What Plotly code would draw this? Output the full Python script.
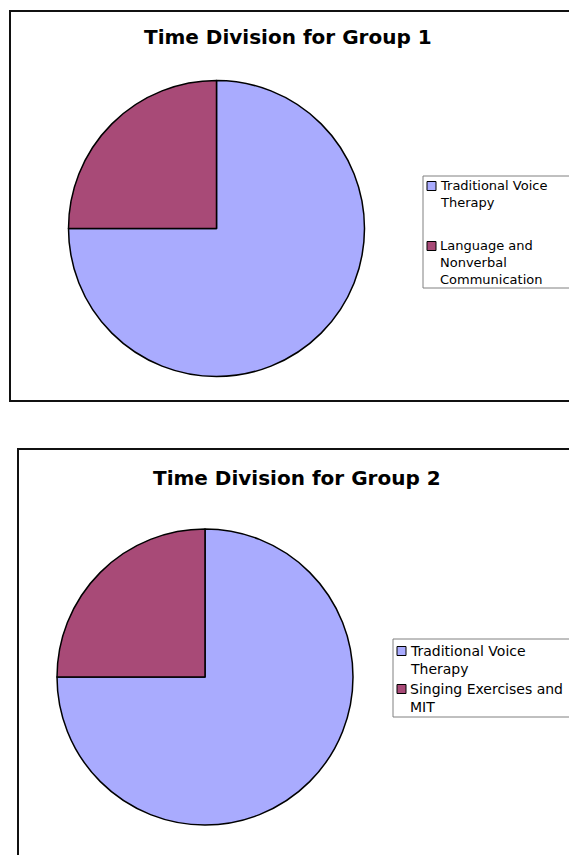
import plotly.graph_objects as go

# Share of session time per activity (percent)
group1_labels = ["Traditional Voice Therapy", "Language and Nonverbal Communication"]
group1_values = [75, 25]

group2_labels = ["Traditional Voice Therapy", "Singing Exercises and MIT"]
group2_values = [75, 25]

titles = ["Time Division for Group 1", "Time Division for Group 2"]

# how each legend entry wraps onto lines
group1_wrap = [["Traditional Voice", "Therapy"], ["Language and", "Nonverbal", "Communication"]]
group2_wrap = [["Traditional Voice", "Therapy"], ["Singing Exercises and", "MIT"]]

W, H = 569, 855
COLORS = ["#A9ABFE", "#A84A77"]
FONT = "DejaVu Sans, Verdana, sans-serif"


def px_x(v):
    return v / W


def px_y(v):
    return 1 - v / H


def pie_domain(cx, cy, r):
    return dict(x=[px_x(cx - r), px_x(cx + r)], y=[px_y(cy + r), px_y(cy - r)])


def pie_trace(labels, values, domain):
    return go.Pie(
        labels=labels, values=values,
        sort=False, direction="clockwise", rotation=0,
        textinfo="none", showlegend=False,
        hovertemplate="%{label}: %{value}%<extra></extra>",
        marker=dict(colors=COLORS, line=dict(color="#000000", width=1.5)),
        domain=domain,
    )


def legend_box(x0, y0, x1, y1, wraps, item_tops, font_size, shapes, annotations):
    """Boxed key: a coloured square plus wrapped text per slice."""
    shapes.append(dict(type="rect", xref="paper", yref="paper",
                       x0=px_x(x0), x1=px_x(x1), y0=px_y(y1), y1=px_y(y0),
                       line=dict(color="#808080", width=1), fillcolor="#FFFFFF"))
    line_h = 1.3 * font_size
    for color, lines, top in zip(COLORS, wraps, item_tops):
        sq = 9
        shapes.append(dict(type="rect", xref="paper", yref="paper",
                           x0=px_x(x0 + 4), x1=px_x(x0 + 4 + sq),
                           y0=px_y(top + sq / 2), y1=px_y(top - sq / 2),
                           line=dict(color="#000000", width=1), fillcolor=color))
        mid = top + (len(lines) - 1) * line_h / 2
        annotations.append(dict(
            text="<br>".join(lines), x=px_x(x0 + 16), y=px_y(mid),
            xref="paper", yref="paper", xanchor="left", yanchor="middle", align="left",
            borderpad=0, showarrow=False,
            font=dict(family=FONT, size=font_size, color="#000000"),
        ))


fig = go.Figure()
fig.add_trace(pie_trace(group1_labels, group1_values, pie_domain(216.5, 228.5, 148)))
fig.add_trace(pie_trace(group2_labels, group2_values, pie_domain(205, 677, 148)))

shapes = [
    dict(type="rect", xref="paper", yref="paper",
         x0=px_x(10), x1=px_x(572), y0=px_y(401), y1=px_y(11),
         line=dict(color="#111111", width=2), fillcolor="rgba(0,0,0,0)", layer="below"),
    dict(type="rect", xref="paper", yref="paper",
         x0=px_x(18), x1=px_x(582), y0=px_y(880), y1=px_y(449),
         line=dict(color="#111111", width=2), fillcolor="rgba(0,0,0,0)", layer="below"),
]
annotations = [
    dict(text="<b>%s</b>" % titles[0], x=px_x(288), y=px_y(37), xref="paper", yref="paper",
         xanchor="center", yanchor="middle", showarrow=False,
         font=dict(family=FONT, size=20, color="#000000")),
    dict(text="<b>%s</b>" % titles[1], x=px_x(297), y=px_y(478), xref="paper", yref="paper",
         xanchor="center", yanchor="middle", showarrow=False,
         font=dict(family=FONT, size=20, color="#000000")),
]

legend_box(423, 176, 575, 288, group1_wrap, [186, 246], 13, shapes, annotations)
legend_box(393, 639, 585, 717, group2_wrap, [651, 689], 14, shapes, annotations)

fig.update_layout(
    width=W, height=H,
    margin=dict(l=0, r=0, t=0, b=0, autoexpand=False),
    paper_bgcolor="#FFFFFF", plot_bgcolor="#FFFFFF",
    showlegend=False,
    shapes=shapes,
    annotations=annotations,
)

fig.write_html("out.html")
